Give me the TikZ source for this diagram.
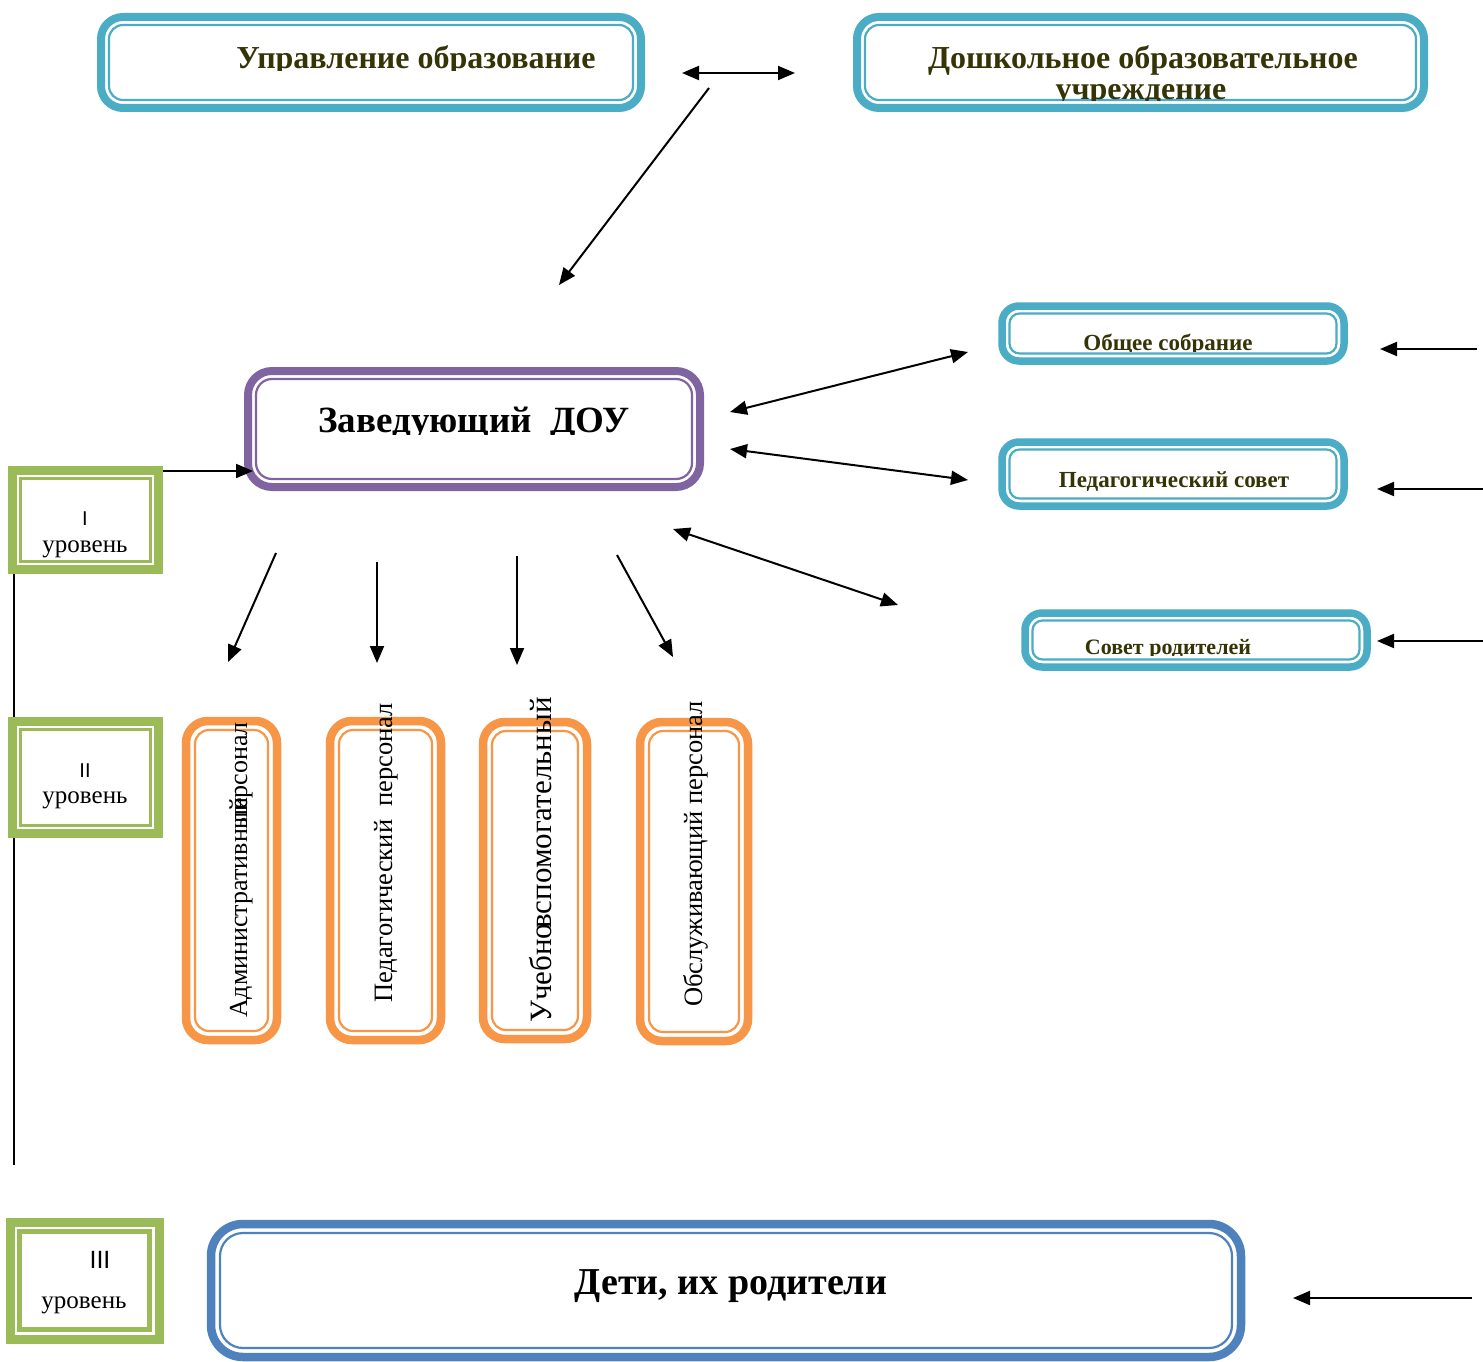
\documentclass[tikz,border=0pt]{standalone}
\usepackage{fontspec}
\setmainfont{Liberation Serif}
\newfontfamily\sansf{Liberation Sans}
\usetikzlibrary{arrows.meta,fit}
\definecolor{aqua}{HTML}{4BACC6}
\definecolor{violetx}{HTML}{8064A2}
\definecolor{greenx}{HTML}{9BBB59}
\definecolor{orangex}{HTML}{F79646}
\definecolor{bluex}{HTML}{4F81BD}
\definecolor{olivetext}{RGB}{52,52,6}
\newcommand{\twobox}[6]{%
  \coordinate (#1-a) at #4; \coordinate (#1-b) at #5;
  \node[#2, fit=(#1-a)(#1-b), inner sep=0pt, outer sep=0pt] (#1) {};
  \draw[#3] ([shift={(#6,#6)}]#1.north west) rectangle ([shift={(-#6,-#6)}]#1.south east);
}
\newcommand{\fs}[1]{\fontsize{#1}{#1}\selectfont}
\tikzset{
  x=1pt, y=-1pt,
  tip/.style={line width=2pt, -{Triangle[length=17pt,width=14pt]}},
  dtip/.style={line width=2pt, {Triangle[length=17pt,width=14pt]}-{Triangle[length=17pt,width=14pt]}},
  aquaout/.style={draw=aqua, line width=8pt, rounded corners=22pt, fill=white},
  aquain/.style={draw=aqua, line width=2.2pt, rounded corners=14pt},
  aquaouts/.style={draw=aqua, line width=7.5pt, rounded corners=17pt, fill=white},
  aquains/.style={draw=aqua, line width=2.2pt, rounded corners=10pt},
  violout/.style={draw=violetx, line width=8pt, rounded corners=24pt, fill=white},
  violin/.style={draw=violetx, line width=2.2pt, rounded corners=16pt},
  orout/.style={draw=orangex, line width=8.5pt, rounded corners=22pt, fill=white},
  orin/.style={draw=orangex, line width=2.2pt, rounded corners=14pt},
  blout/.style={draw=bluex, line width=8.5pt, rounded corners=32pt, fill=white},
  blin/.style={draw=bluex, line width=2.2pt, rounded corners=23pt},
  grout/.style={draw=greenx, line width=9pt, fill=white},
  grin/.style={draw=greenx, line width=2.5pt},
  grin3/.style={draw=greenx, line width=5.5pt},
  btxt/.style={font=\bfseries, text=olivetext, inner sep=0pt, anchor=base},
  ktxt/.style={inner sep=0pt, anchor=base},
  vtxt/.style={inner sep=0pt, rotate=90},
}
\begin{document}
\begin{tikzpicture}
\useasboundingbox (0,0) rectangle (1483,1362);
\fill[white] (0,0) rectangle (1483,1362);

% top boxes
\twobox{uo}{aquaout}{aquain}{(101,17)}{(641,108)}{8}
\twobox{dou}{aquaout}{aquain}{(857,17)}{(1424,108)}{8}
\begin{scope}
  \clip (0,0) rectangle (1483,71);
  \node[btxt, font=\bfseries\fs{32}] (uot) at (416,69) {Управление образование};
\end{scope}
\node[btxt, font=\bfseries\fs{32}] (dout1) at (1143,69) {Дошкольное образовательное};
\begin{scope}
  \clip (0,0) rectangle (1483,101);
  \node[btxt, font=\bfseries\fs{32}] (dout2) at (1141,100) {учреждение};
\end{scope}

% top arrows
\coordinate (h1) at (682,73); \coordinate (h2) at (795,73);
\draw[dtip] (h1) -- (h2);
\coordinate (d1) at (709,88); \coordinate (d2) at (559,285);
\draw[tip] (d1) -- (d2);

% head box
\twobox{zav}{violout}{violin}{(248,371)}{(700,487)}{8}
\begin{scope}
  \clip (0,0) rectangle (1483,434);
  \node[ktxt, font=\bfseries\fs{37}] (zavt) at (474,432) {Заведующий\ \ ДОУ};
\end{scope}

% right boxes
\twobox{os}{aquaouts}{aquains}{(1002,306)}{(1344,361)}{7.5}
\twobox{ps}{aquaouts}{aquains}{(1002,442)}{(1344,506)}{7.5}
\twobox{sr}{aquaouts}{aquains}{(1025,613)}{(1367,667)}{7.5}
\begin{scope}
  \clip (0,0) rectangle (1483,351);
  \node[btxt, font=\bfseries\fs{23}] (ost) at (1168,350) {Общее собрание};
\end{scope}
\begin{scope}
  \clip (0,0) rectangle (1483,490);
  \node[btxt, font=\bfseries\fs{23}] (pst) at (1174,487) {Педагогический совет};
\end{scope}
\begin{scope}
  \clip (0,0) rectangle (1483,655);
  \node[btxt, font=\bfseries\fs{22}] (srt) at (1168,654) {Совет родителей};
\end{scope}

% arrows into right boxes
\coordinate (r1a) at (1477,349); \coordinate (r1b) at (1380,349);
\coordinate (r2a) at (1483,489); \coordinate (r2b) at (1377,489);
\coordinate (r3a) at (1483,641); \coordinate (r3b) at (1377,641);
\draw[tip] (r1a) -- (r1b);
\draw[tip] (r2a) -- (r2b);
\draw[tip] (r3a) -- (r3b);

% double arrows from head
\coordinate (e1a) at (730,412); \coordinate (e1b) at (968,352);
\coordinate (e2a) at (730,449); \coordinate (e2b) at (968,480);
\coordinate (e3a) at (673,529); \coordinate (e3b) at (898,605);
\draw[dtip] (e1a) -- (e1b);
\draw[dtip] (e2a) -- (e2b);
\draw[dtip] (e3a) -- (e3b);

% down arrows
\coordinate (f1a) at (276,553); \coordinate (f1b) at (228,662);
\coordinate (f2a) at (377,562); \coordinate (f2b) at (377,663);
\coordinate (f3a) at (517,556); \coordinate (f3b) at (517,665);
\coordinate (f4a) at (617,555); \coordinate (f4b) at (673,657);
\draw[tip] (f1a) -- (f1b);
\draw[tip] (f2a) -- (f2b);
\draw[tip] (f3a) -- (f3b);
\draw[tip] (f4a) -- (f4b);

% staff boxes
\twobox{s1}{orout}{orin}{(186,721)}{(277,1040)}{9}
\twobox{s2}{orout}{orin}{(330,721)}{(441,1040)}{9}
\twobox{s3}{orout}{orin}{(483,722)}{(587,1039)}{9}
\twobox{s4}{orout}{orin}{(640,722)}{(748,1041)}{9}
\node[vtxt, anchor=base west, font=\fs{26}] (s1t1) at (247,1018) {Административный};
\node[vtxt, anchor=base east, font=\fs{26}] (s1t2) at (247,722) {персонал};
\node[vtxt, anchor=base west, font=\fs{26.5}] (s2t) at (392,1003) {Педагогический\ \ персонал};
\node[vtxt, anchor=base west, font=\fs{31}] (s3t1) at (551,1023) {Учебно};
\node[vtxt, anchor=base east, font=\fs{31}] (s3t2) at (551,697) {вспомогательный};
\node[vtxt, anchor=base west, font=\fs{26.5}] (s4t) at (702,1007) {Обслуживающий персонал};

% levels
\coordinate (vl1) at (14,574); \coordinate (vl2) at (14,1165);
\draw[line width=2pt] (vl1) -- (vl2);
\twobox{l1}{grout}{grin}{(12.5,470.5)}{(158.5,569.5)}{8}
\twobox{l2}{grout}{grin}{(12.5,721.5)}{(158.5,833.5)}{8}
\twobox{l3}{grout}{grin3}{(10,1222)}{(159,1339)}{9.5}
\node[ktxt, font=\sansf\fs{20}] (l1a) at (85,525) {I};
\node[ktxt, font=\fs{25}] (l1b) at (85,552) {уровень};
\node[ktxt, font=\sansf\fs{20}] (l2a) at (85,777) {II};
\node[ktxt, font=\fs{25}] (l2b) at (85,803) {уровень};
\node[ktxt, font=\sansf\fs{25}] (l3a) at (100,1268) {III};
\node[ktxt, font=\fs{25}] (l3b) at (84,1308) {уровень};
\coordinate (g1) at (163,471); \coordinate (g2) at (253,471);
\draw[tip] (g1) -- (g2);

% bottom box
\twobox{det}{blout}{blin}{(211,1224)}{(1241,1357)}{9}
\node[ktxt, font=\bfseries\fs{38}] (dett) at (731,1294) {Дети, их родители};
\coordinate (b1) at (1472,1298); \coordinate (b2) at (1293,1298);
\draw[tip] (b1) -- (b2);
\end{tikzpicture}
\end{document}
